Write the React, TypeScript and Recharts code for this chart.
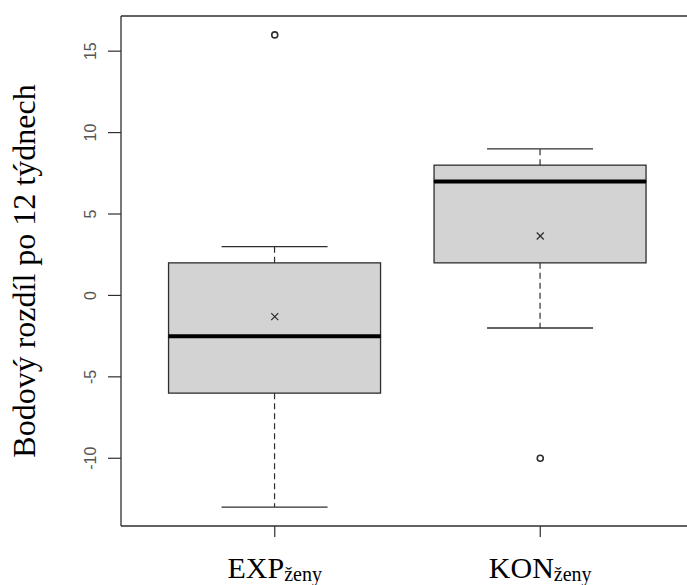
import React from 'react';
import { ComposedChart, Bar, Scatter, XAxis, YAxis } from 'recharts';

// box plot stats
const groups = ['EXP', 'KON'];
const groupSub = 'ženy';
const whiskerLow = [-13, -2];
const quartile1 = [-6, 2];
const medians = [-2.5, 7];
const quartile3 = [2, 8];
const whiskerHigh = [3, 9];
const means = [-1.3, 3.65];
const outliers = [16, -10];
const yTicks = [-10, -5, 0, 5, 10, 15];
const yTitle = 'Bodový rozdíl po 12 týdnech';

const data = groups.map((name, i) => ({
  name,
  base: whiskerLow[i],
  lowWhisker: quartile1[i] - whiskerLow[i],
  lowBox: medians[i] - quartile1[i],
  highBox: quartile3[i] - medians[i],
  highWhisker: whiskerHigh[i] - quartile3[i],
  mean: means[i],
  outlier: outliers[i],
}));

const ink = '#2e2e2e';
const serif = "'Liberation Serif', 'Times New Roman', serif";
const sans = "'Liberation Sans', Arial, sans-serif";

const bounds = (p: any) => {
  const top = Math.min(p.y, p.y + p.height);
  return { top, bottom: top + Math.abs(p.height), left: p.x, w: p.width, cx: p.x + p.width / 2 };
};

const Empty = () => <g />;

const LowWhisker = (p: any) => {
  const { top, bottom, cx, w } = bounds(p);
  return (
    <g stroke={ink}>
      <line x1={cx} x2={cx} y1={top} y2={bottom} strokeDasharray="6 4" strokeWidth={1.2} />
      <line x1={cx - w / 4} x2={cx + w / 4} y1={bottom} y2={bottom} strokeWidth={1.3} />
    </g>
  );
};

const HighWhisker = (p: any) => {
  const { top, bottom, cx, w } = bounds(p);
  return (
    <g stroke={ink}>
      <line x1={cx} x2={cx} y1={bottom} y2={top} strokeDasharray="6 4" strokeWidth={1.2} />
      <line x1={cx - w / 4} x2={cx + w / 4} y1={top} y2={top} strokeWidth={1.3} />
    </g>
  );
};

const LowBox = (p: any) => {
  const { top, bottom, left, w } = bounds(p);
  return <rect x={left} y={top} width={w} height={bottom - top} fill="#d3d3d3" stroke={ink} strokeWidth={1.3} />;
};

const HighBox = (p: any) => {
  const { top, bottom, left, w } = bounds(p);
  return (
    <g>
      <rect x={left} y={top} width={w} height={bottom - top} fill="#d3d3d3" stroke={ink} strokeWidth={1.3} />
      <line x1={left} x2={left + w} y1={bottom} y2={bottom} stroke="#000" strokeWidth={4} />
    </g>
  );
};

const Cross = ({ cx, cy }: any) => (
  <g stroke={ink} strokeWidth={1.2}>
    <line x1={cx - 3.5} y1={cy - 3.5} x2={cx + 3.5} y2={cy + 3.5} />
    <line x1={cx - 3.5} y1={cy + 3.5} x2={cx + 3.5} y2={cy - 3.5} />
  </g>
);

const Ring = ({ cx, cy }: any) => (
  <circle cx={cx} cy={cy} r={3} fill="none" stroke={ink} strokeWidth={1.6} />
);

const GroupTick = ({ x, y, payload }: any) => (
  <text x={x} y={y + 39} textAnchor="middle" fontFamily={serif} fill="#000">
    <tspan fontSize={30}>{payload.value}</tspan>
    <tspan fontSize={20} dy={3}>{groupSub}</tspan>
  </text>
);

const ValueTick = ({ x, y, payload }: any) => (
  <text
    x={x}
    y={y}
    transform={`rotate(-90, ${x}, ${y})`}
    textAnchor="middle"
    fontSize={16}
    fontFamily={sans}
    fill="#555"
  >
    {payload.value}
  </text>
);

const YTitle = ({ viewBox }: any) => {
  const vb = viewBox || { x: 0, y: 16, width: 121, height: 510 };
  const cx = vb.x + 35;
  const cy = vb.y + vb.height / 2;
  return (
    <text
      x={cx}
      y={cy}
      transform={`rotate(-90, ${cx}, ${cy})`}
      textAnchor="middle"
      fontSize={32}
      fontFamily={serif}
      fill="#000"
    >
      {yTitle}
    </text>
  );
};

const App: React.FC = () => {
  return (
    <div style={{ position: 'absolute', left: 0, top: 0, width: 687, height: 585, overflow: 'hidden', background: '#fff' }}>
      <ComposedChart
        width={700}
        height={585}
        data={data}
        margin={{ top: 14, right: 6, bottom: 0, left: 0 }}
        barCategoryGap="10%"
      >
        <XAxis
          dataKey="name"
          type="category"
          height={59}
          padding={{ left: 21, right: 21 }}
          tickSize={11}
          axisLine={{ stroke: ink, strokeWidth: 1.3 }}
          tickLine={{ stroke: ink, strokeWidth: 1.2 }}
          tick={<GroupTick />}
          interval={0}
        />
        {/* top edge of the plot frame */}
        <XAxis
          xAxisId="top"
          dataKey="name"
          orientation="top"
          height={2}
          tick={false}
          tickLine={false}
          axisLine={{ stroke: ink, strokeWidth: 1.3 }}
        />
        <YAxis
          type="number"
          width={121}
          domain={[-14.16, 17.16]}
          ticks={yTicks}
          allowDataOverflow
          tickSize={13}
          tickMargin={12}
          axisLine={{ stroke: ink, strokeWidth: 1.3 }}
          tickLine={{ stroke: ink, strokeWidth: 1.2 }}
          tick={<ValueTick />}
          label={<YTitle />}
        />
        <Bar dataKey="base" stackId="box" shape={<Empty />} isAnimationActive={false} />
        <Bar dataKey="lowWhisker" stackId="box" shape={<LowWhisker />} isAnimationActive={false} />
        <Bar dataKey="lowBox" stackId="box" shape={<LowBox />} isAnimationActive={false} />
        <Bar dataKey="highBox" stackId="box" shape={<HighBox />} isAnimationActive={false} />
        <Bar dataKey="highWhisker" stackId="box" shape={<HighWhisker />} isAnimationActive={false} />
        <Scatter dataKey="mean" shape={<Cross />} isAnimationActive={false} />
        <Scatter dataKey="outlier" shape={<Ring />} isAnimationActive={false} />
      </ComposedChart>
    </div>
  );
};

export default App;
